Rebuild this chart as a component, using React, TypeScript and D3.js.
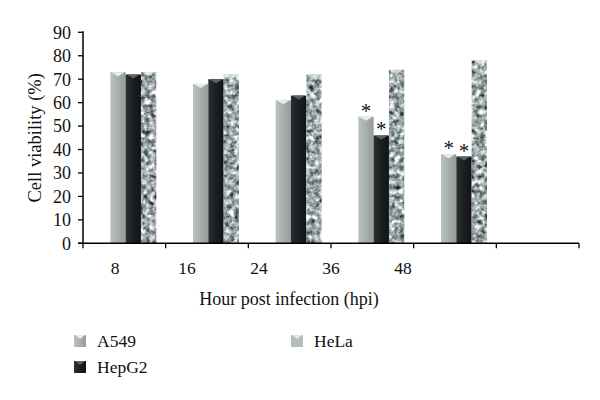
import * as d3 from "d3";

// hours post infection (last slot on the axis is empty in the original)
const categories = ["8", "16", "24", "36", "48"];
const series = ["A549", "HepG2", "HeLa"];
const a549 = [73, 68, 61, 54, 38];
const hepg2 = [72, 70, 63, 46, 37];
const hela = [73, 72, 72, 74, 78];
const yTicks = [0, 10, 20, 30, 40, 50, 60, 70, 80, 90];
// [category index, series index] marked with an asterisk
const significant = [[3, 0], [3, 1], [4, 0], [4, 1]];

const values = [a549, hepg2, hela];
const font = "'Liberation Serif', 'Times New Roman', serif";

const fills = ["url(#gA549)", "url(#gHep)", "#9aa3a3"];
const caps = ["#e9eeed", "#5b6364", "#e4e8e8"];

export default function App() {
  const W = 600;
  const H = 400;
  const left = 83;
  const right = 579;
  const top = 32.3;
  const bottom = 243.3;

  const x = d3.scaleBand<number>().domain(d3.range(6)).range([left, right]);
  const xInner = d3.scaleBand<string>().domain(series).range([27.3, 73.3]);
  const xLabel = d3.scalePoint<string>().domain(categories).range([115, 403]);
  const y = d3.scaleLinear().domain([0, 90]).range([bottom, top]);

  const bw = xInner.bandwidth();

  const capPath = (x0: number, y0: number, w: number) => {
    const h = Math.min(4, w / 3);
    return d3.line()([
      [x0 + 1, y0],
      [x0 + w - 1, y0],
      [x0 + w / 2, y0 + h],
    ]) + "Z";
  };

  return (
    <svg
      width={W}
      height={H}
      style={{ position: "absolute", left: 0, top: 0, background: "#fff" }}
      fontFamily={font}
    >
      <defs>
        <linearGradient id="gA549" x1="0" x2="1" y1="0" y2="0">
          <stop offset="0" stopColor="#b9c2bf" />
          <stop offset="0.5" stopColor="#a6afac" />
          <stop offset="1" stopColor="#939c99" />
        </linearGradient>
        <linearGradient id="gHep" x1="0" x2="1" y1="0" y2="0">
          <stop offset="0" stopColor="#2a2f31" />
          <stop offset="0.5" stopColor="#1b1f21" />
          <stop offset="1" stopColor="#111415" />
        </linearGradient>
        <filter id="speckle" x="0" y="0" width="1" height="1" colorInterpolationFilters="sRGB">
          <feTurbulence type="fractalNoise" baseFrequency="0.2" numOctaves="3" seed="4" result="n" />
          <feColorMatrix
            in="n"
            type="matrix"
            values="0.33 0.33 0.33 0 0  0.33 0.33 0.33 0 0  0.33 0.33 0.33 0 0  0 0 0 0 1"
            result="g"
          />
          <feComponentTransfer in="g" result="c">
            <feFuncR type="linear" slope="2.3" intercept="-0.52" />
            <feFuncG type="linear" slope="2.3" intercept="-0.48" />
            <feFuncB type="linear" slope="2.3" intercept="-0.48" />
          </feComponentTransfer>
          <feComposite in="c" in2="SourceGraphic" operator="in" />
        </filter>
      </defs>

      {/* bars */}
      {categories.map((c, i) =>
        series.map((s, j) => {
          const x0 = (x(i) ?? 0) + (xInner(s) ?? 0);
          const y0 = y(values[j][i]);
          return (
            <g key={c + s}>
              <rect
                x={x0}
                y={y0}
                width={bw}
                height={bottom - y0}
                fill={fills[j]}
                filter={j === 2 ? "url(#speckle)" : undefined}
              />
              <path d={capPath(x0, y0, bw)} fill={caps[j]} opacity={j === 2 ? 0.8 : 1} />
            </g>
          );
        })
      )}

      {/* asterisks */}
      {significant.map(([i, j]) => {
        const cx = (x(i) ?? 0) + (xInner(series[j]) ?? 0) + bw / 2;
        return (
          <text
            key={`s${i}-${j}`}
            x={cx}
            y={y(values[j][i]) + 1}
            textAnchor="middle"
            fontSize={21}
            fill="#111"
          >
            *
          </text>
        );
      })}

      {/* y axis */}
      <line x1={left} x2={left} y1={top - 1} y2={bottom} stroke="#000" strokeWidth={1.5} />
      {yTicks.map((t) => (
        <g key={t} transform={`translate(0,${y(t)})`}>
          <line x1={left - 5} x2={left} stroke="#000" strokeWidth={1.3} />
          <text x={left - 12} dy="0.35em" textAnchor="end" fontSize={18} fill="#111">
            {t}
          </text>
        </g>
      ))}

      {/* x axis */}
      <line x1={left - 5} x2={right} y1={bottom} y2={bottom} stroke="#000" strokeWidth={1.5} />
      {d3.range(7).map((k) => {
        const xx = k < 6 ? x(k) ?? 0 : right;
        return <line key={k} x1={xx} x2={xx} y1={bottom} y2={bottom + 5} stroke="#000" strokeWidth={1.3} />;
      })}
      {categories.map((c) => (
        <text key={c} x={xLabel(c)} y={274} textAnchor="middle" fontSize={17.5} fill="#111">
          {c}
        </text>
      ))}

      <text x={289} y={305} textAnchor="middle" fontSize={18} fill="#111">
        Hour post infection (hpi)
      </text>
      <text
        transform={`translate(41,${(top + bottom) / 2}) rotate(-90)`}
        textAnchor="middle"
        fontSize={18.5}
        fill="#111"
      >
        Cell viability (%)
      </text>

      {/* legend */}
      {series.map((s, j) => {
        const lx = j === 2 ? 291 : 74;
        const ly = j === 1 ? 361 : 335;
        return (
          <g key={s}>
            <rect
              x={lx}
              y={ly}
              width={12}
              height={12}
              fill={j === 2 ? "#b4bcbc" : fills[j]}
            />
            <path d={capPath(lx, ly, 12)} fill={caps[j]} />
            <text x={lx + 23} y={ly + 11.5} fontSize={17.5} fill="#111">
              {s}
            </text>
          </g>
        );
      })}
    </svg>
  );
}
